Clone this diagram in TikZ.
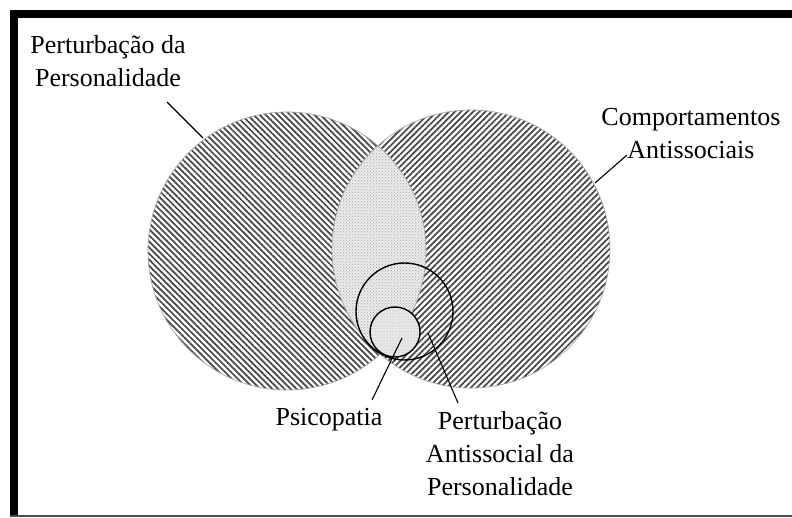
\documentclass[tikz,border=0pt]{standalone}
\usepackage{fontspec}
\setmainfont{Liberation Serif}
\usetikzlibrary{patterns,patterns.meta}
\tikzset{
  leader/.style={draw=black,line width=1.1pt},
  lbl/.style={font=\fontsize{26}{33}\selectfont,align=center,inner sep=0pt,anchor=base},
  bigcirc/.style={draw=gray!70,line width=0.7pt},
  subcirc/.style={draw=black,line width=1.4pt},
  hatchL/.style={pattern={Lines[angle=-45,distance=4.3pt,line width=1.7pt]},pattern color=gray!55!black},
  hatchR/.style={pattern={Lines[angle=45,distance=4.3pt,line width=1.7pt]},pattern color=gray!55!black},
  stipple/.style={pattern=crosshatch dots,pattern color=gray!70}
}
\begin{document}
\begin{tikzpicture}[x=1pt,y=-1pt]
\useasboundingbox (0,0) rectangle (792,518);
\fill[white] (0,0) rectangle (792,518);
% frame
\fill[black] (10,10) rectangle (792,18);
\fill[black] (10,10) rectangle (18,516);
\draw[gray!60!black,line width=1.5pt] (10,516) -- (792,516);
% circle centres
\coordinate (cL) at (287,251);
\coordinate (cR) at (471,249);
\coordinate (cM) at (404.5,311.5);
\coordinate (cS) at (395,332);
% big circles
\path[hatchL] (cL) circle[radius=139];
\path[hatchR] (cR) circle[radius=139];
% lens
\begin{scope}
  \clip (cL) circle[radius=139];
  \fill[white] (cR) circle[radius=139];
  \fill[gray!16] (cR) circle[radius=139];
  \path[stipple] (cR) circle[radius=139];
\end{scope}
\draw[bigcirc] (cL) circle[radius=139];
\draw[bigcirc] (cR) circle[radius=139];
% medium and small circles
\draw[subcirc] (cM) circle[radius=48.5];
\fill[white] (cS) circle[radius=25];
\fill[gray!18] (cS) circle[radius=25];
\path[pattern=dots,pattern color=gray!70] (cS) circle[radius=25];
\draw[subcirc] (cS) circle[radius=25];
% labels (base anchor = baseline of last line)
\node[lbl] (pp) at (108,87) {Perturbação da\\Personalidade};
\node[lbl] (ca) at (691,159) {Comportamentos\\Antissociais};
\node[lbl] (psi) at (329,425) {Psicopatia};
\node[lbl] (apd) at (500,495) {Perturbação\\Antissocial da\\Personalidade};
% leaders
\coordinate (pp1) at (167,102); \coordinate (pp2) at (203,138);
\coordinate (ca1) at (627,155); \coordinate (ca2) at (595,183);
\coordinate (psi1) at (372,400); \coordinate (psi2) at (402,338);
\coordinate (apd1) at (458,403); \coordinate (apd2) at (428,333);
\draw[leader] (pp1) -- (pp2);
\draw[leader] (ca1) -- (ca2);
\draw[leader] (psi1) -- (psi2);
\draw[leader] (apd1) -- (apd2);
\end{tikzpicture}
\end{document}
